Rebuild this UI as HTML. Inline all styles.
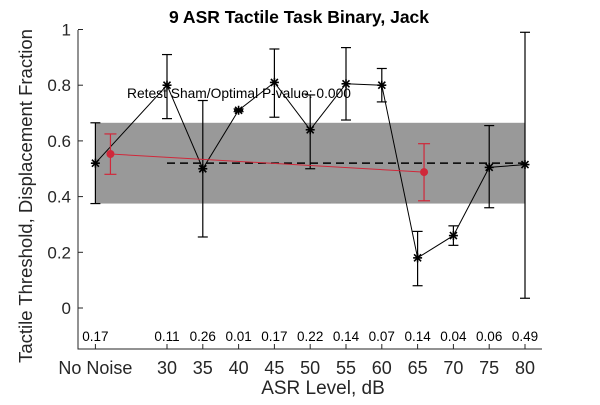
<!DOCTYPE html>
<html><head><meta charset="utf-8"><style>
body{margin:0;background:#fff}
svg{font-family:"Liberation Sans",sans-serif}
</style></head><body>
<svg id="chart" width="600" height="400" xmlns="http://www.w3.org/2000/svg"></svg>
<script>
const categories=[20,30,35,40,45,50,55,60,65,70,75,80];
const tickLabels=["No Noise","30","35","40","45","50","55","60","65","70","75","80"];
const means=[0.52,0.80,0.50,0.71,0.81,0.64,0.805,0.80,0.18,0.26,0.505,0.515];
const lows=[0.375,0.68,0.255,0.705,0.685,0.50,0.675,0.74,0.08,0.225,0.36,0.035];
const highs=[0.665,0.91,0.745,0.715,0.93,0.765,0.935,0.86,0.275,0.295,0.655,0.99];
const pvals=["0.17","0.11","0.26","0.01","0.17","0.22","0.14","0.07","0.14","0.04","0.06","0.49"];
const redX=[22.1,65.9];
const redY=[0.553,0.488];
const redLo=[0.48,0.385];
const redHi=[0.625,0.59];
const bandLo=0.375, bandHi=0.665, dashY=0.52;
const yTicks=[0,0.2,0.4,0.6,0.8,1];
const yTickLabels=["0","0.2","0.4","0.6","0.8","1"];

const NS="http://www.w3.org/2000/svg";
const svg=document.getElementById('chart');
const X=v=>167+(v-30)*7.16;
const Y=v=>308-v*278.5;
function el(t,a,txt,parent){const e=document.createElementNS(NS,t);for(const k in a)e.setAttribute(k,a[k]);if(txt!==undefined&&txt!==null)e.textContent=txt;(parent||svg).appendChild(e);return e;}

let e;
e=el('rect',{x:X(categories[0]),y:Y(bandHi),width:X(categories[11])-X(categories[0]),height:Y(bandLo)-Y(bandHi),fill:'#999'});


e=el('line',{x1:X(30),x2:X(80),y1:Y(dashY),y2:Y(dashY),stroke:'#000','stroke-width':1.5,'stroke-dasharray':'8,5'});



e=el('polyline',{points:categories.map((c,i)=>X(c)+','+Y(means[i])).join(' '),fill:'none',stroke:'#000','stroke-width':1});


categories.forEach((c,i)=>{
  const x=X(c), y=Y(means[i]);
  const g=el('g',{stroke:'#000','stroke-width':1.2});
  
  
  el('line',{x1:x,x2:x,y1:Y(lows[i]),y2:Y(highs[i])},null,g);
  el('line',{x1:x-5,x2:x+5,y1:Y(lows[i]),y2:Y(lows[i])},null,g);
  el('line',{x1:x-5,x2:x+5,y1:Y(highs[i]),y2:Y(highs[i])},null,g);
  const m=el('g',{stroke:'#000','stroke-width':1.6});
  
  
  el('line',{x1:x-4.5,x2:x+4.5,y1:y,y2:y},null,m);
  el('line',{x1:x,x2:x,y1:y-4.5,y2:y+4.5},null,m);
  el('line',{x1:x-3.5,x2:x+3.5,y1:y-3.5,y2:y+3.5},null,m);
  el('line',{x1:x-3.5,x2:x+3.5,y1:y+3.5,y2:y-3.5},null,m);
  const p=el('text',{x:x,y:341,'text-anchor':'middle','font-size':13.5},pvals[i]);
  
  
});

e=el('polyline',{points:redX.map((c,i)=>X(c)+','+Y(redY[i])).join(' '),fill:'none',stroke:'#d0283a','stroke-width':1});


redX.forEach((c,i)=>{
  const x=X(c);
  const g=el('g',{stroke:'#d0283a','stroke-width':1.2});
  
  
  el('line',{x1:x,x2:x,y1:Y(redLo[i]),y2:Y(redHi[i])},null,g);
  el('line',{x1:x-6,x2:x+6,y1:Y(redLo[i]),y2:Y(redLo[i])},null,g);
  el('line',{x1:x-6,x2:x+6,y1:Y(redHi[i]),y2:Y(redHi[i])},null,g);
  const d=el('circle',{cx:x,cy:Y(redY[i]),r:4,fill:'#d0283a'});
  
  
});

e=el('text',{x:239,y:98,'text-anchor':'middle','font-size':13.8},'Retest Sham/Optimal P-value: 0.000');



e=el('path',{d:'M78,30 L78,349 L542,349',fill:'none',stroke:'#262626','stroke-width':1});


yTicks.forEach((v,i)=>{
  el('line',{x1:78,x2:83,y1:Y(v),y2:Y(v),stroke:'#262626'});
  const t=el('text',{x:71,y:Y(v)+6,'text-anchor':'end','font-size':17,fill:'#262626'},yTickLabels[i]);
  
  
});
categories.forEach((c,i)=>{
  el('line',{x1:X(c),x2:X(c),y1:349,y2:344,stroke:'#262626'});
  const t=el('text',{x:X(c),y:374,'text-anchor':'middle','font-size':18,fill:'#262626'},tickLabels[i]);
  
  
});
e=el('text',{x:323,y:394,'text-anchor':'middle','font-size':19,fill:'#262626'},'ASR Level, dB');


e=el('text',{x:0,y:0,'text-anchor':'middle','font-size':18.5,fill:'#262626',transform:'translate(32,196) rotate(-90)'},'Tactile Threshold, Displacement Fraction');


e=el('text',{x:299,y:23,'text-anchor':'middle','font-size':17.5,'font-weight':'bold'},'9 ASR Tactile Task Binary, Jack');


</script>
</body></html>
